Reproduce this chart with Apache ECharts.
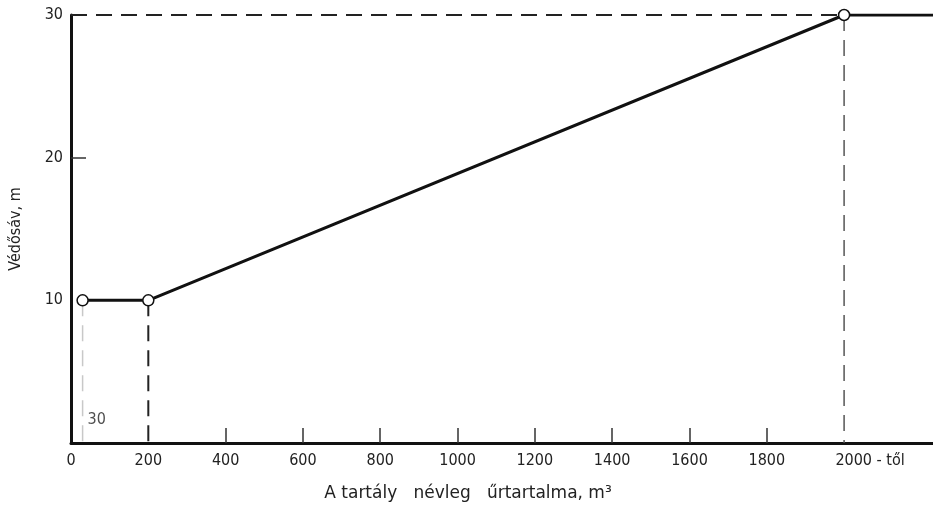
<!DOCTYPE html>
<html>
<head>
<meta charset="utf-8">
<script src="https://cdn.jsdelivr.net/npm/echarts@6/dist/echarts.min.js"></script>
<style>
    html, body {margin: 0; padding: 0; background: #fff;}
    #chart {width: 933px; height: 507px;}
</style>
</head>
<body>
<div id="chart"></div>
<script>
// tartály térfogat (m3) -> védősáv (m)
var volumes = [30, 200, 2000, 2230];
var bands = [10, 10, 30, 30];
var xLabelValues = [0, 200, 400, 600, 800, 1000, 1200, 1400, 1600, 1800, 2000];
var xTickValues = [400, 600, 800, 1000, 1200, 1400, 1600, 1800];
var yLabelValues = [10, 20, 30];
var yTickValues = [20];

var font = 'DejaVu Sans Condensed, DejaVu Sans, sans-serif';

var mainData = volumes.map(function (v, i) {
    var item = {value: [v, bands[i]]};
    if (i === volumes.length - 1) item.symbol = 'none';
    return item;
});

// szaggatott segédvonalak a töréspontoktól
var dashed = function (pts, color, width) {
    return {
        type: 'line',
        data: pts,
        symbol: 'none',
        silent: true,
        lineStyle: {color: color, width: width, type: [16, 9]},
        z: 1
    };
};

var chart = echarts.init(document.getElementById('chart'));
var option = {
    animation: false,
    grid: {left: 70, right: 0, top: 15, bottom: 64},
    xAxis: {
        type: 'value',
        min: 0,
        max: volumes[volumes.length - 1],
        interval: 200,
        splitLine: {show: false},
        axisLine: {lineStyle: {color: '#111', width: 3}},
        axisTick: {inside: true, length: 15, customValues: xTickValues, lineStyle: {color: '#333', width: 1.5}},
        axisLabel: {
            customValues: xLabelValues,
            margin: 10,
            color: '#222',
            fontFamily: font,
            fontSize: 16,
            formatter: function (v) {
                return v === 2000 ? '{e|2000 - től}' : v;
            },
            rich: {e: {padding: [0, 0, 0, 52], color: '#222', fontFamily: font, fontSize: 16}}
        },
        name: 'A tartály   névleg   űrtartalma, m³',
        nameLocation: 'middle',
        nameGap: 42,
        nameTextStyle: {color: '#222', fontFamily: 'DejaVu Sans, sans-serif', fontSize: 17, padding: [0, 68, 0, 0]}
    },
    yAxis: {
        type: 'value',
        min: 0,
        max: 30,
        interval: 10,
        splitLine: {show: false},
        axisLine: {show: true, lineStyle: {color: '#111', width: 3}},
        axisTick: {inside: true, length: 15, customValues: yTickValues, lineStyle: {color: '#333', width: 1.5}},
        axisLabel: {customValues: yLabelValues, margin: 8, color: '#222', fontFamily: font, fontSize: 16},
        name: 'Védősáv, m',
        nameLocation: 'middle',
        nameGap: 47,
        nameTextStyle: {color: '#222', fontFamily: font, fontSize: 16}
    },
    series: [
        dashed([[0, bands[2]], [volumes[2], bands[2]]], '#222', 2),
        dashed([[volumes[0], bands[0]], [volumes[0], 0]], '#c8c8c8', 1.5),
        dashed([[volumes[1], bands[1]], [volumes[1], 0]], '#222', 2),
        dashed([[volumes[2], bands[2]], [volumes[2], 0]], '#555', 1.5),
        {
            type: 'scatter',
            data: [[volumes[0], 1.6]],
            symbolSize: 0,
            silent: true,
            label: {
                show: true,
                position: 'right',
                distance: 5,
                formatter: String(volumes[0]),
                color: '#222',
                fontFamily: font,
                fontSize: 16
            }
        },
        {
            type: 'line',
            data: mainData,
            symbol: 'circle',
            symbolSize: 11,
            itemStyle: {color: '#fff', borderColor: '#111', borderWidth: 1.5},
            lineStyle: {color: '#111', width: 3},
            z: 5
        }
    ]
};
chart.setOption(option);
</script>
</body>
</html>
